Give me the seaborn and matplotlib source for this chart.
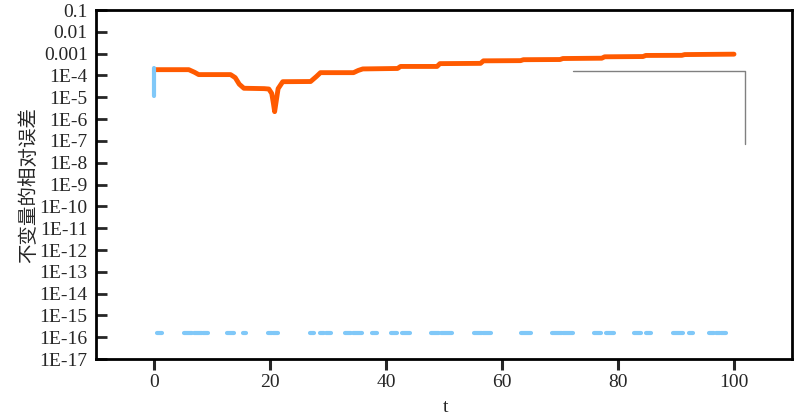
import numpy as np
import pandas as pd
import matplotlib
matplotlib.use("Agg")
import matplotlib.pyplot as plt
import seaborn as sns

# orange curve: relative error of the invariant
t_err = [0.3, 6.0, 7.0, 7.7, 13.2, 14.0, 14.7, 15.5, 19.0, 19.8, 20.3, 20.6, 20.8,
         21.0, 21.4, 22.2, 27.0, 28.0, 28.7, 34.4, 35.2, 36.0, 42.0, 42.5, 48.8,
         49.3, 56.3, 56.8, 63.2, 63.7, 70.0, 70.5, 77.2, 77.7, 84.3, 84.8, 91.0,
         91.5, 100.0]
err = [1.85e-4, 1.85e-4, 1.4e-4, 1.1e-4, 1.1e-4, 8e-5, 4e-5, 2.6e-5, 2.5e-5,
       2.4e-5, 1.5e-5, 5e-6, 2.2e-6, 5e-6, 2.5e-5, 5.2e-5, 5.3e-5, 9e-5,
       1.35e-4, 1.35e-4, 1.7e-4, 2.0e-4, 2.1e-4, 2.6e-4, 2.6e-4, 3.5e-4,
       3.6e-4, 4.7e-4, 4.8e-4, 5.3e-4, 5.4e-4, 6.0e-4, 6.2e-4, 7.2e-4,
       7.4e-4, 8.3e-4, 8.4e-4, 9.1e-4, 9.5e-4]

# light blue series: start jump at t=0, then round-off level pieces (gaps = exact zero)
blue_start_t = [0.0, 0.0]
blue_start_v = [2.3e-4, 1.15e-5]
eps_level = 1.5e-16
seg_start = [0.5, 5.2, 6.9, 8.5, 12.6, 15.3, 19.7, 20.6, 26.9, 28.7, 29.6, 32.9, 34.3,
             37.6, 40.8, 42.8, 47.7, 49.4, 55.1, 56.8, 63.2, 68.6, 70.6, 75.9, 78.0,
             82.7, 84.9, 89.4, 92.3, 95.7, 96.9, 97.8]
seg_end = [1.3, 6.6, 8.2, 9.3, 13.8, 15.8, 20.3, 21.3, 27.6, 29.3, 30.6, 34.0, 35.9,
           38.4, 41.9, 44.1, 49.1, 51.4, 56.5, 58.1, 65.0, 70.3, 72.3, 77.1, 79.3,
           84.0, 85.7, 91.2, 93.0, 96.6, 97.5, 98.6]

y_ticks = [1e-17, 1e-16, 1e-15, 1e-14, 1e-13, 1e-12, 1e-11, 1e-10, 1e-9, 1e-8,
           1e-7, 1e-6, 1e-5, 1e-4, 1e-3, 1e-2, 1e-1]
y_labels = ["1E-17", "1E-16", "1E-15", "1E-14", "1E-13", "1E-12", "1E-11", "1E-10",
            "1E-9", "1E-8", "1E-7", "1E-6", "1E-5", "1E-4", "0.001", "0.01", "0.1"]
x_ticks = [0, 20, 40, 60, 80, 100]

orange = "#FF5A00"
blue = "#80C8F8"

sns.set_theme(style="white")
plt.rcParams['font.family'] = ['Liberation Serif', 'DejaVu Serif']

fig = plt.figure(figsize=(8, 4.19), dpi=100)
ax = fig.add_axes([0.12, 0.143, 0.87, 0.833])

df_err = pd.DataFrame({'t': t_err, 'err': err})
sns.lineplot(data=df_err, x='t', y='err', color=orange, lw=3.5, ax=ax,
             estimator=None, sort=False, solid_capstyle='round')

# round-off pieces as separate units
rows = []
for i, (a, b) in enumerate(zip(seg_start, seg_end)):
    rows.append({'t': a, 'v': eps_level, 'seg': i})
    rows.append({'t': b, 'v': eps_level, 'seg': i})
for tt, vv in zip(blue_start_t, blue_start_v):
    rows.append({'t': tt, 'v': vv, 'seg': -1})
df_blue = pd.DataFrame(rows)
sns.lineplot(data=df_blue, x='t', y='v', units='seg', estimator=None, sort=False,
             color=blue, lw=3, ax=ax, solid_capstyle='round')

ax.set_yscale('log')
ax.set_ylim(1e-17, 1e-1)
ax.set_xlim(-10, 110)
ax.set_yticks(y_ticks)
ax.set_yticklabels(y_labels)
ax.yaxis.set_minor_locator(matplotlib.ticker.NullLocator())
ax.set_xticks(x_ticks)
ax.tick_params(axis='y', direction='in', length=8, width=2, labelsize=14, pad=6)
ax.tick_params(axis='x', direction='out', length=8, width=2.2, labelsize=14, pad=3,
               bottom=True)
ax.tick_params(axis='y', left=True)

for s in ax.spines.values():
    s.set_color('black')
    s.set_linewidth(2)

ax.set_xlabel('t', fontsize=14, labelpad=2)
ax.xaxis.set_label_coords(0.502, -0.115)
ax.set_ylabel('不变量的相对误差', fontsize=14,
              family=['Noto Sans CJK SC', 'DejaVu Sans'], labelpad=0)

# empty legend frame (top and right edges only, as in the source)
ax.plot([0.685, 0.9325, 0.9325], [0.825, 0.825, 0.616], transform=ax.transAxes,
        color='#808080', lw=1)

fig.savefig('out.png', dpi=100)
